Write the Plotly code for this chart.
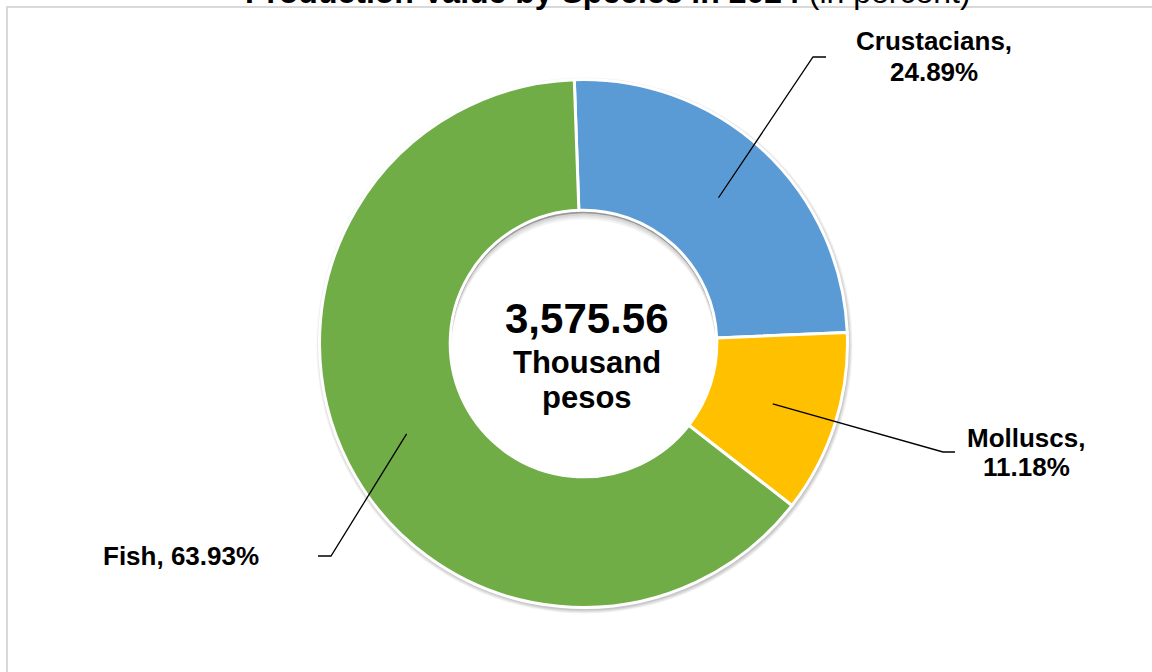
import math

import plotly.graph_objects as go

W, H = 1152, 672

species = ["Crustacians", "Molluscs", "Fish"]
shares = [24.89, 11.18, 63.93]
colors = ["#5B9BD5", "#FFC000", "#70AD47"]
total_value = "3,575.56"
total_unit = ["Thousand", "pesos"]

FONT = "Arial, Liberation Sans, sans-serif"

# donut geometry in pixels
CX, CY, R = 583.5, 343.5, 264
HOLE = 0.505
ROT = -2


def px(x, y):
    return x / W, 1 - y / H


def circle(cx, cy, r, fill):
    x0, y0 = px(cx - r, cy + r)
    x1, y1 = px(cx + r, cy - r)
    return dict(type="circle", xref="paper", yref="paper", x0=x0, y0=y0, x1=x1, y1=y1,
                fillcolor=fill, line=dict(width=0), layer="below")


fig = go.Figure()
fig.add_trace(
    go.Pie(
        labels=species,
        values=shares,
        sort=False,
        direction="clockwise",
        rotation=ROT,
        hole=HOLE,
        marker=dict(colors=colors, line=dict(color="white", width=3)),
        textinfo="none",
        hoverinfo="label+percent",
        showlegend=False,
        domain=dict(
            x=[(CX - R) / W, (CX + R) / W],
            y=[1 - (CY + R) / H, 1 - (CY - R) / H],
        ),
    )
)

# label lines (text, centre y) and leader elbows, in pixels
label_pos = {
    "Crustacians": dict(lines=[("Crustacians,", 41.5), ("24.89%", 71.5)], x=934,
                        elbow=(813, 57), end=(826, 57)),
    "Molluscs": dict(lines=[("Molluscs,", 437.5), ("11.18%", 466.5)], x=1026,
                     elbow=(943, 452), end=(955, 452)),
    "Fish": dict(lines=[("Fish, 63.93%", 555.5)], x=181,
                 elbow=(331, 556), end=(318, 556)),
}

shapes = []
annotations = []

# soft shadow round the ring and inside the hole
rh = R * HOLE
for i, a in enumerate([0.05, 0.05, 0.06, 0.07]):
    shapes.append(circle(CX + 1, CY + 2, R + 4 - i, f"rgba(0,0,0,{a})"))
for i, a in enumerate([0.08, 0.07, 0.06, 0.05]):
    shapes.append(circle(CX, CY, rh, f"rgba(0,0,0,{a})"))
    shapes.append(circle(CX, CY + 2 + i * 2, rh - 1, "white"))

cum = 0
tot = sum(shares)
for name, val in zip(species, shares):
    mid = ROT + 360 * (cum + val / 2) / tot
    cum += val
    rr = R * (1 + HOLE) / 2
    sx = CX + rr * math.sin(math.radians(mid))
    sy = CY - rr * math.cos(math.radians(mid))
    lp = label_pos[name]
    p0 = px(sx, sy)
    p1 = px(*lp["elbow"])
    p2 = px(*lp["end"])
    shapes.append(
        dict(
            type="path",
            xref="paper",
            yref="paper",
            path=f"M {p0[0]} {p0[1]} L {p1[0]} {p1[1]} L {p2[0]} {p2[1]}",
            line=dict(color="black", width=1.3),
        )
    )
    for txt, y in lp["lines"]:
        ax, ay = px(lp["x"], y)
        annotations.append(
            dict(
                x=ax, y=ay, xref="paper", yref="paper", showarrow=False,
                text=f"<b>{txt}</b>", font=dict(family=FONT, size=26, color="black"),
                xanchor="center", yanchor="middle",
            )
        )

# chart frame
shapes.append(
    dict(type="rect", xref="paper", yref="paper",
         x0=7 / W, y0=-0.05, x1=1.05, y1=1 - 7 / H,
         line=dict(color="#D9D9D9", width=2), layer="below")
)

# centre text
for txt, y, size in [(total_value, 318, 42), (total_unit[0], 362, 31), (total_unit[1], 397, 31)]:
    ax, ay = px(587, y)
    annotations.append(
        dict(x=ax, y=ay, xref="paper", yref="paper", showarrow=False,
             text=f"<b>{txt}</b>", font=dict(family=FONT, size=size, color="black"),
             xanchor="center", yanchor="middle")
    )

# title, cut off at top of the frame
tx, ty = px(608, -8)
annotations.append(
    dict(x=tx, y=ty, xref="paper", yref="paper", showarrow=False,
         text="<b>Production Value by Species in 2024</b> (in percent)",
         font=dict(family=FONT, size=32, color="black"),
         xanchor="center", yanchor="middle")
)

fig.update_layout(
    width=W,
    height=H,
    margin=dict(l=0, r=0, t=0, b=0),
    paper_bgcolor="white",
    plot_bgcolor="white",
    shapes=shapes,
    annotations=annotations,
)

fig.write_html(
    "out.html",
    config={"displayModeBar": False},
    post_script="document.body.style.margin='0';",
)
